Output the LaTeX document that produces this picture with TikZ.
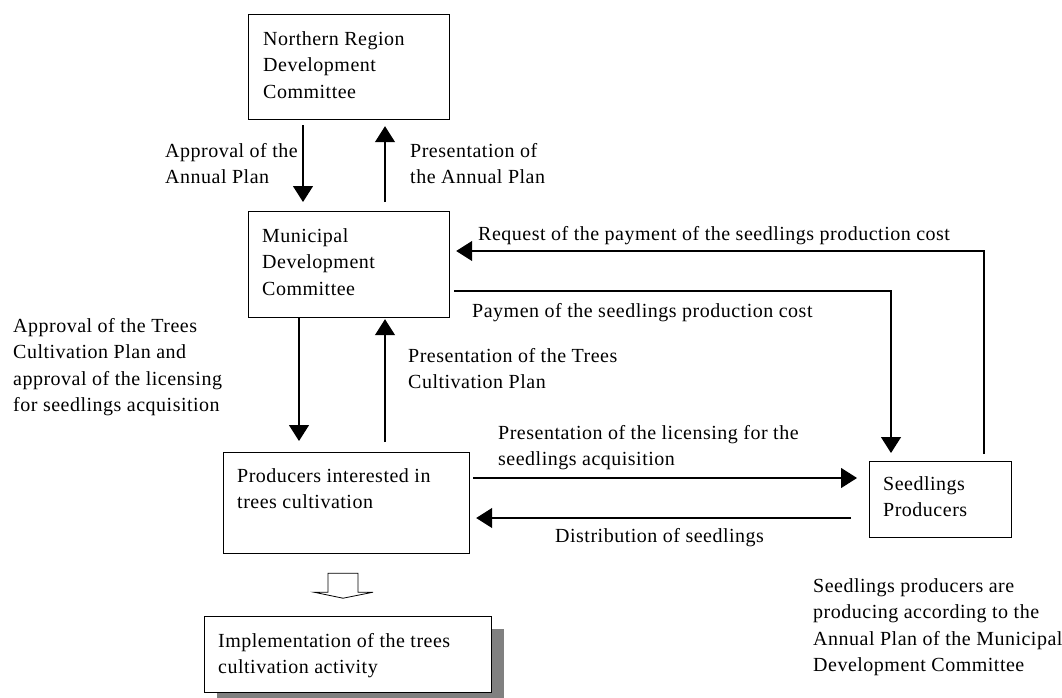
\documentclass[tikz,border=0pt]{standalone}
\usepackage{fontspec}
\setmainfont{Liberation Serif}[LetterSpace=2.5]
\usetikzlibrary{arrows.meta,shadows}
\begin{document}
\begin{tikzpicture}[x=1pt,y=-1pt,
  box/.style={draw,line width=1.2pt,fill=white,anchor=north west,inner sep=0pt},
  txt/.style={anchor=north west,inner sep=0pt,align=left,font=\fontsize{20}{26.5}\selectfont},
  arr/.style={line width=1.2pt,-{Triangle[width=20pt,length=16pt]}}]
\useasboundingbox (0,0) rectangle (1062,698);
%boxes
\node[box,minimum width=201pt,minimum height=105pt] (nrdc) at (248,14) {};
\node[box,minimum width=201pt,minimum height=106pt] (muni) at (248,211) {};
\node[box,minimum width=246pt,minimum height=101pt] (prod) at (223,452) {};
\node[box,minimum width=142pt,minimum height=76pt] (seed) at (869,461) {};
\node[box,minimum width=287pt,minimum height=76pt,
  drop shadow={shadow xshift=12pt,shadow yshift=-12pt,fill=gray,opacity=1}] (impl) at (204,616) {};

\node[txt] (nrdcText) at ([shift={(15,17)}]nrdc.north west) {Northern Region\\Development\\Committee};
\node[txt] (muniText) at ([shift={(14,17)}]muni.north west) {Municipal\\Development\\Committee};
\node[txt] (prodText) at ([shift={(14,16)}]prod.north west) {Producers interested in\\trees cultivation};
\node[txt] (seedText) at ([shift={(14,15)}]seed.north west) {Seedlings\\Producers};
\node[txt] (implText) at ([shift={(14,17)}]impl.north west) {Implementation of the trees\\cultivation activity};

%arrows
\draw[arr] ([shift={(55,5)}]nrdc.south west) -- ([shift={(55,-9)}]muni.north west);
\draw[arr] ([shift={(137,-9)}]muni.north west) -- ([shift={(137,6)}]nrdc.south west);
\draw[arr] ([shift={(51,0)}]muni.south west) -- ([shift={(76,-11)}]prod.north west);
\draw[arr] ([shift={(162,-10)}]prod.north west) -- ([shift={(137,1)}]muni.south west);
\draw[arr] ([shift={(3,26)}]prod.north east) -- ([shift={(-12,17)}]seed.north west);
\draw[arr] ([shift={(-18,57)}]seed.north west) -- ([shift={(6,66)}]prod.north east);
\draw[arr] ([shift={(4,80)}]muni.north east) -| ([shift={(22,-8)}]seed.north west);
\draw[arr] ([shift={(115,-7)}]seed.north west) |- ([shift={(6,40)}]muni.north east);

%hollow arrow
\draw[line width=0.8pt] ([shift={(105,19)}]prod.south west) coordinate (hollow)
  -- ++(30,0) -- ++(0,19) -- ++(15,0) -- ++(-30,6) -- ++(-29,-6) -- ++(14,0) -- cycle;

%labels
\node[txt] (l1) at (165,143) {Approval of the\\Annual Plan};
\node[txt] (l2) at (410,143) {Presentation of\\the Annual Plan};
\node[txt] (l3) at (13,318) {Approval of the Trees\\Cultivation Plan and\\approval of the licensing\\for seedlings acquisition};
\node[txt] (l4) at (408,348) {Presentation of the Trees\\Cultivation Plan};
\node[txt] (l5) at (478,226) {Request of the payment of the seedlings production cost};
\node[txt] (l6) at (472,303) {Paymen of the seedlings production cost};
\node[txt] (l7) at (498,425) {Presentation of the licensing for the\\seedlings acquisition};
\node[txt] (l8) at (555,528) {Distribution of seedlings};
\node[txt] (l9) at (813,578) {Seedlings producers are\\producing according to the\\Annual Plan of the Municipal\\Development Committee};
\end{tikzpicture}
\end{document}
